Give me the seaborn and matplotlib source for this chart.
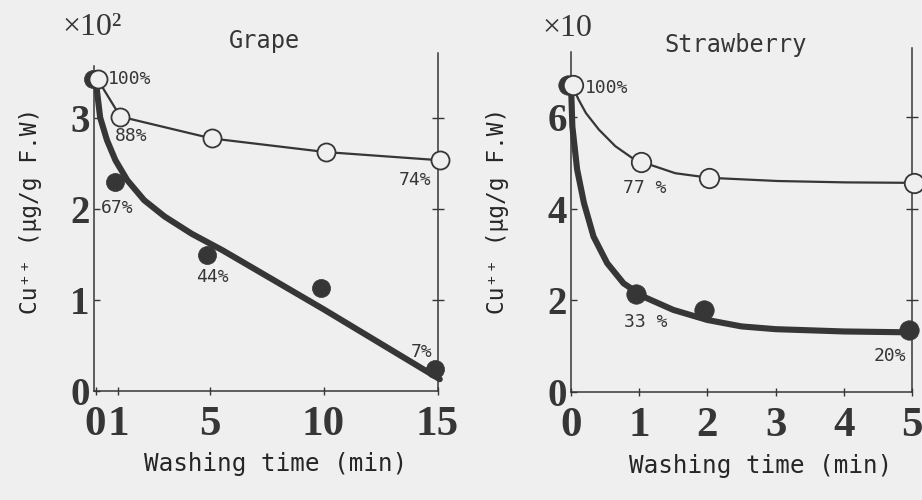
import matplotlib
matplotlib.use("Agg")
import matplotlib.pyplot as plt
import matplotlib.transforms as mtransforms
import pandas as pd
import seaborn as sns

# ---- Grape: Cu++ residue (x10^2 ug/g F.W) vs washing time (min) ----
grape_time = [0, 1, 5, 10, 15]
grape_open = [3.43, 3.02, 2.78, 2.63, 2.54]
grape_filled = [3.43, 2.30, 1.50, 1.13, 0.24]
grape_fit_time = [0, 0.2, 0.5, 0.87, 1.39, 2.13, 3.03, 4.22, 5.56, 6.45, 10, 15.1]
grape_fit = [3.43, 3.01, 2.76, 2.54, 2.32, 2.10, 1.92, 1.73, 1.55, 1.42, 0.90, 0.13]
grape_xticks = [0, 1, 5, 10, 15]
grape_yticks = [0, 1, 2, 3]

# ---- Strawberry: Cu++ residue (x10 ug/g F.W) vs washing time (min) ----
straw_time = [0, 1, 2, 5]
straw_open = [6.70, 5.02, 4.67, 4.56]
straw_filled = [6.70, 2.14, 1.79, 1.36]
straw_open_fit_time = [0, 0.02, 0.08, 0.19, 0.38, 0.62, 0.87, 1.0, 1.5, 2.0, 3.0, 4.0, 5.0]
straw_open_fit = [6.70, 6.58, 6.38, 6.08, 5.72, 5.36, 5.10, 5.02, 4.77, 4.67, 4.60, 4.57, 4.56]
straw_filled_fit_time = [0, 0.02, 0.09, 0.19, 0.33, 0.53, 0.77, 1.06, 1.5, 2.0, 2.5, 3.0, 4.0, 5.0]
straw_filled_fit = [6.70, 5.79, 4.85, 4.12, 3.39, 2.81, 2.37, 2.08, 1.79, 1.57, 1.43, 1.37, 1.32, 1.30]
straw_xticks = [0, 1, 2, 3, 4, 5]
straw_yticks = [0, 2, 4, 6]

BG = "#efefef"
INK = "#363636"
MONO = ["DejaVu Sans Mono", "DejaVu Sans"]
SERIF = ["Liberation Serif", "DejaVu Serif"]

sns.set_theme(style="ticks")
plt.rcParams.update({
    "figure.facecolor": BG,
    "axes.facecolor": BG,
    "axes.edgecolor": INK,
    "axes.linewidth": 1.1,
    "xtick.color": INK,
    "ytick.color": INK,
    "text.color": INK,
})
plt.rcParams["font.family"] = MONO

W, H = 922, 500
fig = plt.figure(figsize=(W / 100, H / 100), dpi=100)
ax_g = fig.add_axes([94 / W, 1 - 391 / H, 343.5 / W, 338 / H])
ax_s = fig.add_axes([571 / W, 1 - 392 / H, 341 / W, 344 / H])


def shifted(ax, dx_px):
    return ax.transData + mtransforms.ScaledTranslation(dx_px / 100, 0, fig.dpi_scale_trans)


def draw_panel(ax, t, y_open, y_filled, fit_t, fit_y, open_fit_t, open_fit_y,
               xlim, ylim, xticks, yticks, left_top, msize):
    # thick fitted curve for the filled series
    sns.lineplot(x=fit_t, y=fit_y, ax=ax, color=INK, lw=4.4, sort=False,
                 estimator=None, solid_capstyle="round", zorder=3, clip_on=False)
    # thin line for the open series
    open_tr = shifted(ax, 2)
    line_df = pd.DataFrame({"t": open_fit_t, "v": open_fit_y})
    sns.lineplot(data=line_df, x="t", y="v", ax=ax, color=INK, lw=1.6, sort=False,
                 estimator=None, zorder=2, transform=open_tr, clip_on=False)
    # markers
    sns.scatterplot(x=t, y=y_filled, ax=ax, s=msize ** 2, color=INK, edgecolor=INK,
                    linewidth=0.5, zorder=4, transform=shifted(ax, -3), clip_on=False)
    sns.scatterplot(x=t, y=y_open, ax=ax, s=msize ** 2, color=BG, edgecolor=INK,
                    linewidth=1.3, zorder=5, transform=open_tr, clip_on=False)

    ax.set_xlim(*xlim)
    ax.set_ylim(*ylim)
    ax.set_xlabel("")
    ax.set_ylabel("")
    ax.spines["top"].set_visible(False)
    ax.spines["right"].set_visible(False)
    ax.spines["left"].set_bounds(0, left_top)

    ax.set_xticks(xticks)
    ax.set_xticklabels([str(v) for v in xticks])
    ax.set_yticks(yticks)
    ax.set_yticklabels([str(v) for v in yticks])
    ax.tick_params(axis="x", direction="inout", length=6, width=1.0, pad=8)
    ax.tick_params(axis="y", direction="in", length=4.5, width=1.0, pad=3)
    for lab in ax.get_xticklabels():
        lab.set_fontfamily(SERIF)
        lab.set_fontweight("bold")
        lab.set_fontsize(31)
    for lab in ax.get_yticklabels():
        lab.set_fontfamily(SERIF)
        lab.set_fontweight("bold")
        lab.set_fontsize(28)

    # right-hand frame line with crossing ticks
    sec = ax.secondary_yaxis("right")
    sec.set_yticks([v for v in yticks if v > 0])
    sec.tick_params(axis="y", direction="inout", length=8.5, width=1.0, labelright=False)
    sec.spines["right"].set_linewidth(1.1)
    sec.spines["right"].set_color(INK)


draw_panel(ax_g, grape_time, grape_open, grape_filled, grape_fit_time, grape_fit,
           grape_time, grape_open, (-0.07, 15.0), (0, 3.72), grape_xticks,
           grape_yticks, 3.58, 13)
draw_panel(ax_s, straw_time, straw_open, straw_filled, straw_filled_fit_time,
           straw_filled_fit, straw_open_fit_time, straw_open_fit, (0, 4.97),
           (0, 7.5), straw_xticks, straw_yticks, 7.42, 14)

# percentage labels relative to the unwashed sample
pct_kw = dict(textcoords="offset pixels", fontsize=13, family=MONO, color=INK,
              va="center", zorder=6)
ax_g.annotate("100%", (grape_time[0], grape_open[0]), xytext=(12, 0), ha="left", **pct_kw)
ax_g.annotate("88%", (grape_time[1], grape_open[1]), xytext=(-4, -19), ha="left", **pct_kw)
ax_g.annotate("67%", (grape_time[1], grape_filled[1]), xytext=(-18, -26), ha="left", **pct_kw)
ax_g.annotate("44%", (grape_time[2], grape_filled[2]), xytext=(3, -22), ha="center", **pct_kw)
ax_g.annotate("7%", (grape_time[4], grape_filled[4]), xytext=(-16, 17), ha="center", **pct_kw)
ax_g.annotate("74%", (grape_time[4], grape_open[4]), xytext=(-22, -20), ha="center", **pct_kw)

ax_s.annotate("100%", (straw_time[0], straw_open[0]), xytext=(14, -3), ha="left", **pct_kw)
ax_s.annotate("77 %", (straw_time[1], straw_open[1]), xytext=(6, -26), ha="center", **pct_kw)
ax_s.annotate("33 %", (straw_time[1], straw_filled[1]), xytext=(7, -28), ha="center", **pct_kw)
ax_s.annotate("20%", (straw_time[3], straw_filled[3]), xytext=(-22, -26), ha="center", **pct_kw)

# titles, scale factors and axis labels
fig.text(264 / W, 1 - 48 / H, "Grape", ha="center", va="baseline",
         fontsize=17, family=MONO)
fig.text(736 / W, 1 - 52 / H, "Strawberry", ha="center", va="baseline",
         fontsize=17, family=MONO)
fig.text(62 / W, 1 - 35 / H, "×10²", ha="left", va="baseline",
         fontsize=23, family=SERIF)
fig.text(542 / W, 1 - 36 / H, "×10", ha="left", va="baseline",
         fontsize=23, family=SERIF)

for ax, right_px, yc, xc in ((ax_g, 42, 0.533, 0.53), (ax_s, 509, 0.526, 0.555)):
    ax.set_ylabel("Cu⁺⁺ (μg/g F.W)", fontsize=16.5, family=MONO)
    pos = ax.get_position()
    ax.yaxis.set_label_coords((right_px - pos.x0 * W) / (pos.width * W), yc)
    ax.set_xlabel("Washing time (min)", fontsize=17.5, family=MONO)
    ax.xaxis.set_label_coords(xc, -0.18)

fig.savefig("out.png", dpi=100, facecolor=BG)
